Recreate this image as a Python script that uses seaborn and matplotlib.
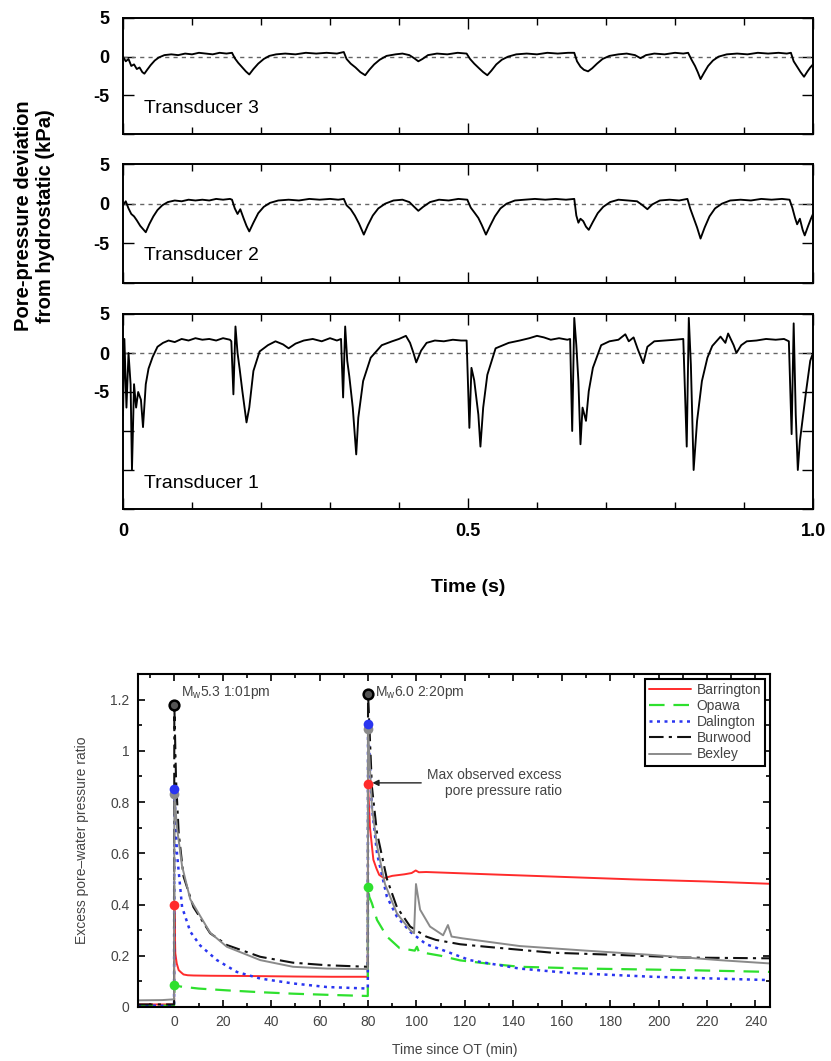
"""
Two stacked figures: pore-pressure traces from three transducers (top)
and excess pore-water pressure ratio after two earthquakes (bottom).
"""

import numpy as np
import pandas as pd
import matplotlib
matplotlib.use('Agg')
import matplotlib.pyplot as plt
from matplotlib.ticker import MultipleLocator, FuncFormatter
import seaborn as sns

# ------------------------------------------------------------------ #
# Data — top figure (time in s, deviation in kPa)
# ------------------------------------------------------------------ #
t3_time = [0.000, 0.004, 0.008, 0.012, 0.016, 0.020, 0.024, 0.028, 0.031, 0.035, 0.040, 0.046,
           0.052, 0.060, 0.070, 0.080, 0.090, 0.100, 0.110, 0.120, 0.130, 0.140, 0.150, 0.158,
           0.162, 0.167, 0.172, 0.178, 0.183, 0.189, 0.196, 0.204, 0.212, 0.222, 0.235, 0.250,
           0.265, 0.280, 0.295, 0.310, 0.320,
           0.324, 0.330, 0.337, 0.344, 0.351, 0.357, 0.364, 0.372, 0.382, 0.395, 0.405, 0.415,
           0.422, 0.428, 0.434, 0.442, 0.455, 0.470, 0.485, 0.498,
           0.503, 0.509, 0.516, 0.522, 0.528, 0.534, 0.541, 0.549, 0.558, 0.570, 0.585, 0.600,
           0.615, 0.630, 0.645, 0.654,
           0.658, 0.663, 0.668, 0.674, 0.680, 0.687, 0.695, 0.705, 0.718, 0.730, 0.742, 0.750,
           0.758, 0.770, 0.785, 0.800, 0.812, 0.819,
           0.824, 0.829, 0.833, 0.837, 0.842, 0.848, 0.855, 0.863, 0.875, 0.890, 0.905, 0.920,
           0.935, 0.950, 0.962, 0.968,
           0.972, 0.977, 0.982, 0.987, 0.992, 0.996, 1.000]
t3_kpa = [0.0, -0.6, -0.3, -1.2, -1.0, -1.6, -1.4, -2.0, -2.2, -1.7, -1.1, -0.5,
          -0.1, 0.2, 0.3, 0.2, 0.4, 0.3, 0.5, 0.4, 0.3, 0.5, 0.4, 0.5,
          -0.2, -0.8, -1.3, -1.9, -2.3, -1.6, -0.9, -0.3, 0.1, 0.3, 0.4, 0.3,
          0.5, 0.4, 0.5, 0.4, 0.6,
          -0.3, -0.9, -1.4, -2.0, -2.4, -1.7, -1.0, -0.4, 0.1, 0.3, 0.4, 0.2,
          -0.2, -0.6, -0.3, 0.2, 0.4, 0.3, 0.5, 0.4,
          -0.3, -0.9, -1.5, -2.0, -2.4, -1.8, -1.0, -0.4, 0.0, 0.3, 0.4, 0.3,
          0.5, 0.4, 0.5, 0.5,
          -0.6, -1.3, -1.7, -1.9, -1.5, -0.9, -0.3, 0.1, 0.3, 0.4, 0.2, -0.2,
          0.2, 0.4, 0.3, 0.5, 0.4, 0.5,
          -0.4, -1.2, -2.0, -2.9, -2.1, -1.2, -0.5, 0.0, 0.3, 0.4, 0.3, 0.5,
          0.4, 0.5, 0.4, 0.5,
          -0.6, -1.3, -2.0, -2.6, -1.9, -1.4, -1.0]

t2_time = [0.000, 0.004, 0.008, 0.012, 0.016, 0.020, 0.025, 0.030, 0.033, 0.038, 0.044, 0.050,
           0.057, 0.065, 0.075, 0.085, 0.095, 0.105, 0.115, 0.125, 0.135, 0.145, 0.155, 0.158,
           0.162, 0.166, 0.170, 0.175, 0.179, 0.183, 0.189, 0.196, 0.204, 0.213, 0.225, 0.240,
           0.255, 0.270, 0.285, 0.300, 0.312, 0.320,
           0.324, 0.330, 0.336, 0.342, 0.349, 0.355, 0.362, 0.370, 0.380, 0.392, 0.405, 0.415,
           0.422, 0.428, 0.435, 0.445, 0.458, 0.472, 0.486, 0.499,
           0.504, 0.510, 0.515, 0.520, 0.526, 0.532, 0.539, 0.547, 0.556, 0.568, 0.582, 0.597,
           0.612, 0.627, 0.642, 0.654,
           0.657, 0.660, 0.663, 0.667, 0.671, 0.675, 0.681, 0.688, 0.696, 0.706, 0.718, 0.732,
           0.745, 0.753, 0.760, 0.767, 0.778, 0.792, 0.806, 0.818,
           0.822, 0.827, 0.832, 0.837, 0.843, 0.850, 0.858, 0.868, 0.880, 0.895, 0.910, 0.925,
           0.940, 0.955, 0.966,
           0.970, 0.974, 0.977, 0.981, 0.985, 0.988, 0.993, 0.997, 1.000]
t2_kpa = [-0.2, 0.3, -0.6, -1.3, -1.6, -2.1, -2.8, -3.3, -3.6, -2.6, -1.6, -0.8,
          -0.2, 0.2, 0.4, 0.3, 0.5, 0.4, 0.5, 0.4, 0.6, 0.5, 0.6, 0.5,
          -0.6, -1.3, -0.7, -1.9, -2.8, -3.5, -2.4, -1.2, -0.4, 0.1, 0.4, 0.5,
          0.4, 0.6, 0.5, 0.6, 0.5, 0.6,
          -0.2, -0.7, -1.5, -2.5, -3.9, -2.7, -1.5, -0.6, 0.0, 0.4, 0.5, 0.2,
          -0.4, -0.9, -0.4, 0.2, 0.5, 0.4, 0.6, 0.5,
          -0.5, -1.2, -1.8, -2.7, -3.9, -2.8, -1.6, -0.6, 0.0, 0.4, 0.5, 0.6,
          0.5, 0.6, 0.5, 0.6,
          -1.5, -2.4, -1.9, -2.2, -2.9, -3.3, -2.3, -1.2, -0.4, 0.2, 0.5, 0.4,
          0.3, -0.2, -0.7, -0.1, 0.4, 0.5, 0.4, 0.6,
          -0.6, -1.8, -3.0, -4.4, -3.0, -1.6, -0.6, 0.0, 0.4, 0.5, 0.4, 0.6,
          0.5, 0.6, 0.5,
          -0.5, -1.8, -2.6, -1.9, -3.3, -4.0, -2.8, -1.9, -1.3]

t1_time = [0.000, 0.002, 0.005, 0.008, 0.011, 0.013, 0.016, 0.019, 0.022, 0.026, 0.029, 0.033,
           0.037, 0.043, 0.050, 0.058, 0.066, 0.075, 0.085, 0.095, 0.105, 0.115, 0.125, 0.135,
           0.145, 0.155,
           0.157, 0.160, 0.163, 0.166, 0.169, 0.173, 0.179, 0.183, 0.189, 0.198, 0.210, 0.221,
           0.232, 0.240, 0.250, 0.262, 0.275, 0.288, 0.300, 0.310, 0.316,
           0.319, 0.322, 0.325, 0.328, 0.333, 0.338, 0.341, 0.348, 0.359, 0.375, 0.390, 0.400,
           0.410, 0.416, 0.421, 0.425, 0.432, 0.440, 0.452, 0.465, 0.478, 0.490, 0.498,
           0.502, 0.505, 0.509, 0.515, 0.518, 0.522, 0.528, 0.540, 0.559, 0.575, 0.589, 0.600,
           0.610, 0.620, 0.632, 0.644, 0.648,
           0.651, 0.654, 0.657, 0.660, 0.663, 0.666, 0.671, 0.675, 0.681, 0.693, 0.705, 0.718,
           0.728, 0.733, 0.740, 0.746, 0.754, 0.760, 0.770, 0.785, 0.800, 0.812,
           0.817, 0.820, 0.823, 0.827, 0.832, 0.839, 0.847, 0.854, 0.866, 0.873, 0.877, 0.885,
           0.889, 0.896, 0.904, 0.918, 0.932, 0.946, 0.958, 0.965,
           0.969, 0.972, 0.975, 0.978, 0.981, 0.985, 0.990, 0.996, 1.000]
t1_kpa = [-8.0, 1.8, -7.0, 0.0, -4.0, -15.0, -4.0, -7.0, -5.0, -6.0, -9.5, -4.0,
          -2.0, -0.5, 0.8, 1.3, 1.6, 1.4, 1.8, 1.6, 1.9, 1.7, 1.8, 1.6,
          1.9, 1.7,
          1.5, -5.3, 3.4, 0.0, -2.0, -4.9, -8.9, -7.0, -2.3, 0.2, 1.0, 1.5,
          1.1, 0.6, 1.2, 1.6, 1.8, 1.5, 1.9, 1.6, 1.8,
          -5.7, 3.4, -1.0, -3.0, -7.0, -13.0, -8.3, -3.6, -0.6, 1.0, 1.5, 1.8,
          2.2, 1.3, 0.0, -1.2, 0.3, 1.3, 1.6, 1.5, 1.7, 1.6, 1.6,
          -9.6, -1.9, -3.5, -7.9, -12.0, -7.0, -2.8, 0.6, 1.3, 1.6, 1.9, 2.2,
          2.0, 1.7, 1.9, 1.7, 1.8,
          -10.0, 4.5, 1.0, -3.6, -11.7, -7.0, -8.7, -4.9, -1.9, 1.0, 1.5, 1.7,
          2.4, 1.5, 2.0, 0.5, -1.3, 0.8, 1.5, 1.6, 1.7, 1.8,
          -12.0, 4.5, -1.5, -15.0, -8.7, -3.6, -0.6, 0.9, 2.1, 1.3, 2.5, 1.0,
          0.0, 1.0, 1.5, 1.6, 1.8, 1.7, 1.8, 1.5,
          -10.4, 3.8, -7.9, -15.0, -11.3, -8.5, -4.9, -1.0, 0.0]

transducer_names = ['Transducer 3', 'Transducer 2', 'Transducer 1']

# ------------------------------------------------------------------ #
# Data — bottom figure (time since OT in min, excess pore-pressure ratio)
# ------------------------------------------------------------------ #
sites = ['Barrington', 'Opawa', 'Dalington', 'Burwood', 'Bexley']

barrington_t = [-15, -0.1, 0, 0.4, 1.0, 1.8, 2.8, 3.8, 5.5, 7.9, 15, 30, 50, 65, 79.9,
                80, 80.8, 82.2, 83.5, 84.6, 86.6, 90, 95, 98, 99.7, 101, 104, 130, 160, 190, 220, 246]
barrington_r = [0.01, 0.01, 0.40, 0.21, 0.17, 0.144, 0.135, 0.127, 0.124, 0.123, 0.122, 0.121,
                0.119, 0.118, 0.118,
                0.87, 0.70, 0.575, 0.54, 0.516, 0.503, 0.512, 0.518, 0.523, 0.533, 0.526, 0.527,
                0.518, 0.508, 0.498, 0.49, 0.481]

opawa_t = [-15, -0.1, 0, 2.5, 10, 21.7, 35, 49, 65, 79.9,
           80, 80.5, 81.6, 83.7, 87.8, 93, 99.3, 100.2, 101, 104, 110, 118, 129, 142.6, 170, 211, 246]
opawa_r = [0.005, 0.005, 0.085, 0.08, 0.072, 0.065, 0.058, 0.052, 0.047, 0.043,
           0.47, 0.43, 0.405, 0.34, 0.275, 0.23, 0.22, 0.235, 0.215, 0.21, 0.2, 0.182, 0.17,
           0.157, 0.15, 0.144, 0.137]

dalington_t = [-15, -0.1, 0, 1.1, 3.2, 6.6, 10.7, 17.6, 25.8, 35.5, 49, 63, 79.9,
               80, 81.6, 83.7, 87.8, 91.9, 97.4, 104, 108, 122, 142.6, 163, 197.6, 246]
dalington_r = [0.005, 0.005, 0.85, 0.6, 0.39, 0.294, 0.24, 0.183, 0.137, 0.111, 0.092, 0.078, 0.072,
               1.105, 0.78, 0.6, 0.43, 0.353, 0.294, 0.245, 0.232, 0.183, 0.15, 0.133, 0.118, 0.105]

burwood_t = [-15, -0.1, 0, 0.7, 1.8, 3.8, 7.9, 14.8, 21.7, 35.5, 49, 63, 79.9,
             80, 81.6, 83.7, 87.8, 91.9, 97.4, 104, 108, 118, 129, 156, 184, 211, 246]
burwood_r = [0.01, 0.01, 1.18, 0.89, 0.68, 0.51, 0.39, 0.288, 0.242, 0.196, 0.173, 0.163, 0.157,
             1.222, 0.86, 0.68, 0.5, 0.39, 0.314, 0.275, 0.262, 0.245, 0.235, 0.212, 0.203,
             0.193, 0.19]

bexley_t = [-15, -5, -0.1, 0, 1.1, 3.2, 6.6, 14.8, 21.7, 35.5, 49, 63, 79.9,
            80, 81.6, 83.7, 87, 91.9, 97.4, 99, 99.8, 101.5, 105.6, 111, 113, 114.5, 119,
            142.6, 170, 197.6, 225, 246]
bexley_r = [0.026, 0.027, 0.03, 0.83, 0.7, 0.55, 0.42, 0.29, 0.235, 0.183, 0.157, 0.15, 0.148,
            1.085, 0.78, 0.63, 0.48, 0.366, 0.30, 0.288, 0.48, 0.38, 0.314, 0.28, 0.32, 0.275,
            0.268, 0.238, 0.22, 0.203, 0.183, 0.17]

event_times = [0, 80]
event_labels = [r'M$_w$5.3 1:01pm', r'M$_w$6.0 2:20pm']
peak_barrington = [0.40, 0.87]
peak_opawa = [0.085, 0.47]
peak_dalington = [0.85, 1.105]
peak_burwood = [1.18, 1.222]
peak_bexley = [0.83, 1.085]

# ------------------------------------------------------------------ #
# Style
# ------------------------------------------------------------------ #
sns.set_theme(style='ticks')
plt.rcParams['font.family'] = ['Liberation Sans', 'DejaVu Sans']
plt.rcParams['mathtext.fontset'] = 'custom'
plt.rcParams['mathtext.rm'] = 'Liberation Sans'
plt.rcParams['mathtext.it'] = 'Liberation Sans:italic'
plt.rcParams['mathtext.default'] = 'regular'

W, H = 831, 1061


def box(left, top, right, bottom):
    """Pixel box (from top-left) -> figure fraction rect."""
    return [left / W, 1 - bottom / H, (right - left) / W, (bottom - top) / H]


fig = plt.figure(figsize=(W / 100, H / 100), dpi=100)

# ------------------------------------------------------------------ #
# Top figure — three transducer panels
# ------------------------------------------------------------------ #
top_boxes = [box(123, 18, 813, 134), box(123, 164, 813, 283), box(123, 314, 813, 509)]
top_ylims = [(-10, 5), (-10, 5), (-20, 5)]
top_series = [(t3_time, t3_kpa), (t2_time, t2_kpa), (t1_time, t1_kpa)]
label_y = [0.224, 0.227, 0.133]

for i, (rect, ylim, (tt, vv)) in enumerate(zip(top_boxes, top_ylims, top_series)):
    ax = fig.add_axes(rect)
    ax.axhline(0, color='0.4', ls=(0, (3, 3)), lw=1.0, zorder=1)
    sns.lineplot(x=tt, y=vv, ax=ax, color='black', lw=1.35,
                 estimator=None, sort=False, zorder=2)
    ax.set_xlim(0, 1)
    ax.set_ylim(*ylim)
    ax.xaxis.set_major_locator(MultipleLocator(0.5))
    ax.xaxis.set_minor_locator(MultipleLocator(0.1))
    ax.yaxis.set_major_locator(MultipleLocator(5))
    ax.yaxis.set_major_formatter(
        FuncFormatter(lambda v, p: f'{v:.0f}'.replace('-0', '0') if v >= -5 else ''))
    if i == 2:
        ax.xaxis.set_major_formatter(
            FuncFormatter(lambda v, p: '0' if abs(v) < 1e-9 else f'{v:.1f}'))
    else:
        ax.set_xticklabels([])
    ax.tick_params(which='both', direction='in', top=True, right=True,
                   colors='black', width=1.0)
    ax.tick_params(which='major', length=8, labelsize=13, pad=10)
    ax.tick_params(which='minor', length=5)
    for lab in ax.get_xticklabels() + ax.get_yticklabels():
        lab.set_fontweight('bold')
    for sp in ax.spines.values():
        sp.set_linewidth(1.4)
        sp.set_color('black')
    ax.set_xlabel('')
    ax.set_ylabel('')
    ax.text(0.03, label_y[i], transducer_names[i], transform=ax.transAxes,
            fontsize=14, ha='left', va='center', color='black')

fig.text(35 / W, 1 - 216 / H, 'Pore-pressure deviation\nfrom hydrostatic (kPa)',
         rotation=90, ha='center', va='center', fontsize=14.5, fontweight='bold',
         linespacing=1.2, color='black')
fig.text(468 / W, 1 - 587 / H, 'Time (s)', ha='center', va='center',
         fontsize=14, fontweight='bold', color='black')

# ------------------------------------------------------------------ #
# Bottom figure — excess pore-water pressure ratio
# ------------------------------------------------------------------ #
axb = fig.add_axes(box(138, 674, 770, 1007))

site_data = {
    'Barrington': (barrington_t, barrington_r, peak_barrington),
    'Opawa': (opawa_t, opawa_r, peak_opawa),
    'Dalington': (dalington_t, dalington_r, peak_dalington),
    'Burwood': (burwood_t, burwood_r, peak_burwood),
    'Bexley': (bexley_t, bexley_r, peak_bexley),
}
site_style = {
    'Barrington': dict(color='#ff2b2b', ls='-', lw=1.4),
    'Opawa': dict(color='#2ee02e', ls=(0, (7, 4)), lw=1.6),
    'Dalington': dict(color='#2a35f0', ls=(0, (1.2, 1.8)), lw=1.8),
    'Burwood': dict(color='#111111', ls=(0, (7, 2.5, 1.5, 2.5)), lw=1.5),
    'Bexley': dict(color='#8a8a8a', ls='-', lw=1.4),
}

for name in sites:
    tt, rr, _ = site_data[name]
    st = site_style[name]
    sns.lineplot(x=tt, y=rr, ax=axb, color=st['color'], linestyle=st['ls'],
                 lw=st['lw'], estimator=None, sort=False, label=name)

# peak markers (grey first so the coloured dots sit on top)
for name in ['Bexley', 'Opawa', 'Barrington', 'Dalington', 'Burwood']:
    _, _, pk = site_data[name]
    col = site_style[name]['color']
    if name == 'Burwood':
        axb.plot(event_times, pk, 'o', ms=7, mfc='#555555', mec='black', mew=1.8, zorder=5)
    else:
        axb.plot(event_times, pk, 'o', ms=7, mfc=col, mec=col, mew=0, zorder=5)

for et, lab in zip(event_times, event_labels):
    axb.text(et + 2.8, 1.228, lab, fontsize=10, color='#444444', ha='left', va='center')

axb.annotate('Max observed excess\npore pressure ratio', xy=(81.8, 0.875),
             xytext=(160, 0.875), ha='right', va='center', multialignment='right',
             fontsize=10, color='#444444',
             arrowprops=dict(arrowstyle='-|>', color='#222222', lw=1.0,
                             mutation_scale=9, shrinkA=2, shrinkB=0))

axb.set_xlim(-15, 246)
axb.set_ylim(0, 1.3)
axb.xaxis.set_major_locator(MultipleLocator(20))
axb.xaxis.set_minor_locator(MultipleLocator(10))
axb.yaxis.set_major_locator(MultipleLocator(0.2))
axb.yaxis.set_minor_locator(MultipleLocator(0.1))
axb.yaxis.set_major_formatter(FuncFormatter(lambda v, p: f'{v:g}'))
axb.xaxis.set_major_formatter(FuncFormatter(lambda v, p: f'{v:g}'))
axb.tick_params(which='both', direction='in', top=True, right=True,
                colors='black', labelcolor='#444444', width=1.2)
axb.tick_params(which='major', length=5, labelsize=10, pad=6)
axb.tick_params(which='minor', length=3)
for sp in axb.spines.values():
    sp.set_linewidth(1.5)
    sp.set_color('black')
axb.set_xlabel('')
axb.set_ylabel('')

leg = axb.legend(loc='upper right', fontsize=10, handlelength=3.0, labelspacing=0.15,
                 borderpad=0.3, borderaxespad=0.35, handletextpad=0.4,
                 fancybox=False, framealpha=1.0)
leg.get_frame().set_edgecolor('black')
leg.get_frame().set_linewidth(1.5)
for txt in leg.get_texts():
    txt.set_color('#444444')

fig.text(82 / W, 1 - 840 / H, 'Excess pore\u2013water pressure ratio', rotation=90,
         ha='center', va='center', fontsize=10, color='#444444')
fig.text(455 / W, 1 - 1050 / H, 'Time since OT (min)', ha='center', va='center',
         fontsize=10, color='#444444')

fig.savefig('out.png', dpi=100)
